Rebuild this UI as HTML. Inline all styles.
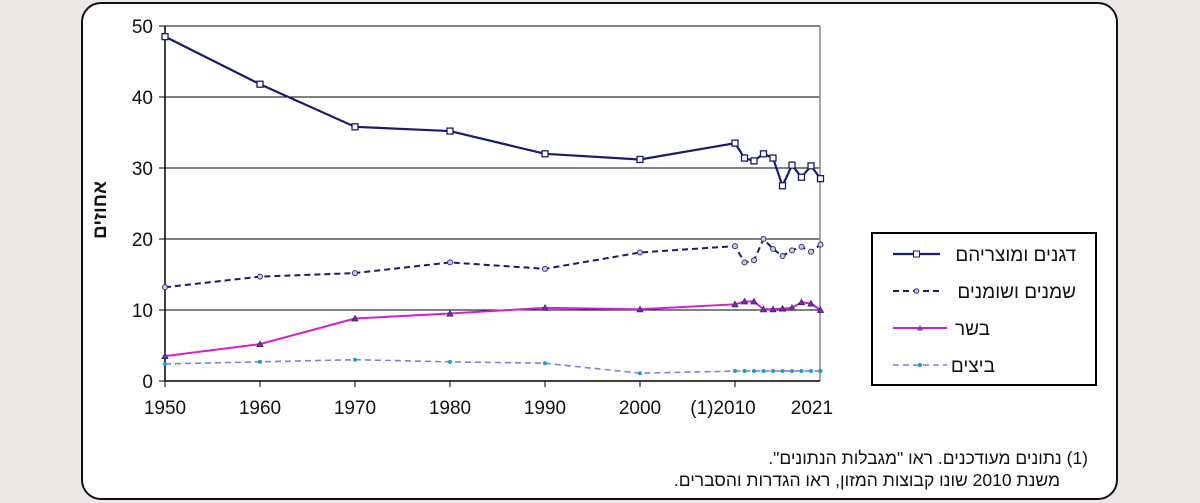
<!DOCTYPE html>
<html><head><meta charset="utf-8">
<style>
html,body{margin:0;padding:0;background:#ede8e8;width:1200px;height:503px;overflow:hidden}
#box{position:absolute;left:81px;top:2px;width:1033px;height:494px;border:2.5px solid #111;border-radius:20px;background:#fff}
svg{position:absolute;left:0;top:0}
text{font-family:"Liberation Sans","Noto Sans CJK SC",sans-serif}
</style></head><body>
<div id="box"></div>
<svg id="chart" width="1200" height="503"></svg>
<script>
const years=[1950,1960,1970,1980,1990,2000,2010,2011,2012,2013,2014,2015,2016,2017,2018,2019];
const grains=[48.5,41.8,35.8,35.2,32,31.2,33.5,31.4,31,32,31.4,27.5,30.4,28.7,30.3,28.5];
const oils=[13.2,14.7,15.2,16.7,15.8,18.1,19,16.7,17,20,18.6,17.6,18.4,18.9,18.2,19.2];
const meat=[3.5,5.2,8.8,9.5,10.3,10.1,10.8,11.2,11.2,10.1,10.1,10.2,10.3,11.1,10.9,10];
const eggs=[2.4,2.7,3.0,2.7,2.5,1.1,1.4,1.4,1.4,1.4,1.4,1.4,1.4,1.4,1.4,1.4];
const yTicks=[0,10,20,30,40,50];
const xLabels=["1950","1960","1970","1980","1990","2000","(1)2010","2021"];
const xLabelYears=[1950,1960,1970,1980,1990,2000,2010,2018.1];
const seriesNames=["דגנים ומוצריהם","שמנים ושומנים","בשר","ביצים"];

const NS="http://www.w3.org/2000/svg";
const svg=document.getElementById('chart');
const X=y=>165+(y-1950)*9.5;
const Y=v=>381-v*7.1;
function el(t,a,p){const e=document.createElementNS(NS,t);for(const k in a)e.setAttribute(k,a[k]);(p||svg).appendChild(e);return e;}

yTicks.forEach(v=>{
  if(v>0){const g=el('line',{x1:165,x2:820,y1:Y(v),y2:Y(v),stroke:'#000','stroke-width':1});
  
  }
  el('line',{x1:159,x2:165,y1:Y(v),y2:Y(v),stroke:'#000'});
  const t=el('text',{x:153,y:Y(v)+7,'text-anchor':'end','font-size':19,fill:'#111'});
  t.textContent=v;
  
  
});
el('line',{x1:820,x2:820,y1:Y(50),y2:Y(0),stroke:'#888','stroke-width':1.5});
const ya=el('line',{x1:165,x2:165,y1:Y(50),y2:Y(0),stroke:'#000','stroke-width':1.5});


const xa=el('line',{x1:165,x2:820,y1:Y(0),y2:Y(0),stroke:'#000','stroke-width':1.5});


xLabels.forEach((l,i)=>{
  const x=X(xLabelYears[i]);
  if(i<7) el('line',{x1:X(xLabelYears[i]),x2:X(xLabelYears[i]),y1:381,y2:387,stroke:'#000'});
  const t=el('text',{x:i==6?x-12:x,y:414,'text-anchor':'middle','font-size':19,fill:'#111'});
  t.textContent=l;
  
  
});
const yt=el('text',{x:0,y:0,'text-anchor':'middle','font-size':19,'font-weight':'bold',fill:'#111',transform:'translate(106,210) rotate(-90)'});
yt.textContent='אחוזים';



function series(vals,color,dash,marker,name,w){
  const pts=vals.map((v,i)=>X(years[i])+','+Y(v)).join(' ');
  const p=el('polyline',{points:pts,fill:'none',stroke:color,'stroke-width':w,'stroke-dasharray':dash||''});
  
  
  vals.forEach((v,i)=>{
    const x=X(years[i]),y=Y(v);let m;
    if(marker=='sq')m=el('rect',{x:x-3,y:y-3,width:6,height:6,fill:'#fff',stroke:'#1a1a6e','stroke-width':1.3});
    else if(marker=='circ')m=el('circle',{cx:x,cy:y,r:2.5,fill:'#ccd',stroke:'#33338a','stroke-width':1});
    else if(marker=='tri')m=el('path',{d:`M${x-3},${y+2.5} L${x+3},${y+2.5} L${x},${y-3}Z`,fill:'#6a3aa0',stroke:'#3a1a80','stroke-width':0.8});
    else m=el('circle',{cx:x,cy:y,r:2,fill:'#1aa0c8'});
    
    
  });
}
series(grains,'#1a1a6e','','sq','grains',2.2);
series(oils,'#1a1a6e','6,4','circ','oils',2);
series(meat,'#d020d0','','tri','meat',2);
series(eggs,'#8080e0','6,4','dot','eggs',1.6);

const lg=el('rect',{x:872,y:233,width:224,height:152,fill:'#fff',stroke:'#000','stroke-width':2});


const lstyles=[['#1a1a6e','','sq',2.2],['#1a1a6e','6,4','circ',2],['#d020d0','','tri',2],['#8080e0','6,4','dot',1.6]];
const lineEnd=[940,940,947,947];
const textRight=[1076,1076,990,995];
seriesNames.forEach((n,i)=>{
  const y=254+i*37,[c,d,m,w]=lstyles[i];
  const le=el('line',{x1:893,x2:lineEnd[i],y1:y,y2:y,stroke:c,'stroke-width':w,'stroke-dasharray':d});
  
  
  const mx=(893+lineEnd[i])/2;
  if(m=='sq')el('rect',{x:mx-3,y:y-3,width:6,height:6,fill:'#fff',stroke:c});
  else if(m=='circ')el('circle',{cx:mx,cy:y,r:2.3,fill:'#ccd',stroke:'#33338a'});
  else if(m=='tri')el('path',{d:`M${mx-3},${y+2.5} L${mx+3},${y+2.5} L${mx},${y-3}Z`,fill:'#6a3aa0'});
  else el('circle',{cx:mx,cy:y,r:2,fill:'#1aa0c8'});
  const t=el('text',{x:textRight[i],y:y+7,'text-anchor':'start','font-size':19,fill:'#111',direction:'rtl'});
  t.textContent=n;
  
  
});
const f1=el('text',{x:1088,y:464,'font-size':17.5,fill:'#111',direction:'rtl','text-anchor':'start'});
f1.textContent='(1) נתונים מעודכנים. ראו "מגבלות הנתונים".';


const f2=el('text',{x:1060,y:486,'font-size':17.5,fill:'#111',direction:'rtl','text-anchor':'start'});
f2.textContent='משנת 2010 שונו קבוצות המזון, ראו הגדרות והסברים.';


</script>
</body></html>
